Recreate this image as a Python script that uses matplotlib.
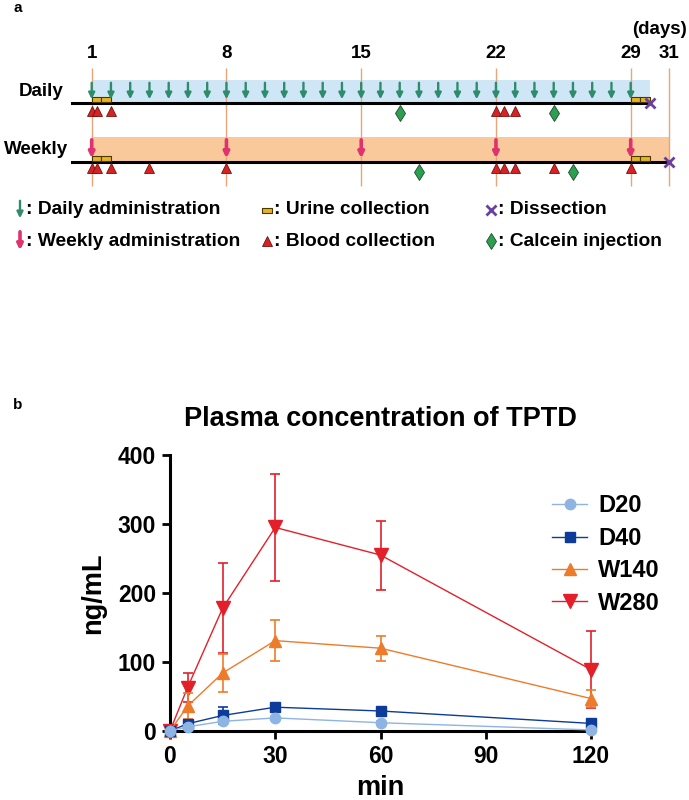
import matplotlib.pyplot as plt

plt.rcParams['font.family'] = ['Liberation Sans', 'DejaVu Sans']
plt.rcParams['font.weight'] = 'bold'

# ---- panel a: schedule (days) ----
tick_days = [1, 8, 15, 22, 29, 31]
daily_admin = list(range(1, 30))
weekly_admin = [1, 8, 15, 22, 29]
daily_blood = [1, 1.3, 2, 22, 22.4, 23]
weekly_blood = [1, 1.3, 2, 4, 8, 22, 22.4, 23, 25, 29]
daily_calcein = [17, 25]
weekly_calcein = [18, 26]
urine_days = [1, 1.5, 29, 29.5]
daily_end = 30
weekly_end = 31

# ---- panel b: plasma concentration ----
times = [0, 5, 15, 30, 60, 120]
d20 = [0, 6, 14, 19, 12, 1.5]
d20_sd = [0, 2, 3, 3, 2, 0.5]
d40 = [0, 10.5, 22.5, 34.5, 29, 11]
d40_sd = [0, 3, 13, 4, 3, 2]
w140 = [0, 36, 84, 131, 120, 47]
w140_sd = [0, 19, 27, 30, 18, 12]
w280 = [0, 63, 178, 295, 255, 89]
w280_sd = [0, 21, 65, 78, 50, 56]

W, H = 689, 800
fx = lambda x: x / W
fy = lambda y: 1 - y / H

fig = plt.figure(figsize=(6.89, 8), dpi=100)

GREEN = '#2e8b6b'
PINK = '#e0336e'
RED = '#d62222'
DIAM = '#2ca050'
PURPLE = '#6b3fa0'
GOLD = '#e6b422'
VLINE = '#e9a57a'

# timeline axes: x in days, y in pixel rows
ax = fig.add_axes([0, fy(190), 1, 190 / H])
ax.set_xlim(1 - 91.7 / 19.25, 1 + (W - 91.7) / 19.25)
ax.set_ylim(190, 0)
ax.axis('off')

ax.vlines(tick_days, 68, 186, color=VLINE, lw=1, zorder=1)
for d in tick_days:
    ax.text(d, 53, str(d), ha='center', va='center', fontsize=13.5, fontweight='bold')

# bands
ax.fill_between([1, daily_end], 80, 103, color='#cfe6f7', lw=0, zorder=0)
ax.fill_between([1, weekly_end], 137, 162, color='#f9c99c', lw=0, zorder=0)
ax.plot([0, daily_end], [103, 103], color='black', lw=2.2, zorder=3)
ax.plot([0, weekly_end], [162, 162], color='black', lw=2.2, zorder=3)

for d in daily_admin:
    ax.annotate('', xy=(d, 102), xytext=(d, 80),
                arrowprops=dict(arrowstyle='-|>', color=GREEN, lw=1.7, mutation_scale=9), zorder=4)
for d in weekly_admin:
    ax.annotate('', xy=(d, 161), xytext=(d, 137),
                arrowprops=dict(arrowstyle='-|>', color=PINK, lw=2.6, mutation_scale=8), zorder=4)

for y0 in (103, 162):
    ax.broken_barh([(d, 0.5) for d in urine_days], (y0 - 6, 5),
                   facecolor=GOLD, edgecolor='#4a3800', lw=0.8, zorder=3)

ax.plot(daily_blood, [111] * len(daily_blood), '^', color=RED, mec='#7a1010',
        mew=0.6, ms=7.5, zorder=5)
ax.plot(weekly_blood, [168] * len(weekly_blood), '^', color=RED, mec='#7a1010',
        mew=0.6, ms=7.5, zorder=5)
ax.plot(daily_calcein, [113] * len(daily_calcein), 'd', color=DIAM, mec='#1a4a2a',
        mew=0.6, ms=7.8, zorder=5)
ax.plot(weekly_calcein, [172] * len(weekly_calcein), 'd', color=DIAM, mec='#1a4a2a',
        mew=0.6, ms=7.8, zorder=5)
ax.plot([daily_end], [103], 'x', color=PURPLE, ms=7, mew=2, zorder=6)
ax.plot([weekly_end], [162], 'x', color=PURPLE, ms=7, mew=2, zorder=6)

fig.text(fx(64), fy(92), 'Daily', ha='right', va='center', fontsize=13.5, fontweight='bold')
fig.text(fx(68), fy(149), 'Weekly', ha='right', va='center', fontsize=13.5, fontweight='bold')
fig.text(fx(687), fy(30), '(days)', ha='right', va='center', fontsize=13.5, fontweight='bold')
fig.text(fx(13), fy(8), 'a', ha='left', va='center', fontsize=11, fontweight='bold')
fig.text(fx(13), fy(405), 'b', ha='left', va='center', fontsize=11, fontweight='bold')

# legend of panel a (pixel layout)
lg = fig.add_axes([0, fy(260), 1, 70 / H])
lg.set_xlim(0, W)
lg.set_ylim(260, 190)
lg.axis('off')
lg.annotate('', xy=(20, 221), xytext=(20, 198),
            arrowprops=dict(arrowstyle='-|>', color=GREEN, lw=1.7, mutation_scale=9))
lg.annotate('', xy=(20, 253), xytext=(20, 229),
            arrowprops=dict(arrowstyle='-|>', color=PINK, lw=2.6, mutation_scale=8))
lg.broken_barh([(262, 10)], (208, 5), facecolor=GOLD, edgecolor='#4a3800', lw=0.8)
lg.plot([267], [241], '^', color=RED, mec='#7a1010', mew=0.6, ms=7.5)
lg.plot([491], [210], 'x', color=PURPLE, ms=7, mew=2)
lg.plot([491], [241], 'd', color=DIAM, mec='#1a4a2a', mew=0.6, ms=7.8)
for x, y, s in [(26, 210, ': Daily administration'), (26, 241, ': Weekly administration'),
                (274, 210, ': Urine collection'), (274, 241, ': Blood collection'),
                (498, 210, ': Dissection'), (498, 241, ': Calcein injection')]:
    lg.text(x, y, s, ha='left', va='center', fontsize=13.8, fontweight='bold')

# ---- panel b ----
bx = fig.add_axes([fx(170), fy(731), (591 - 170) / W, (731 - 455) / H])
series = [
    ('D20', d20, d20_sd, '#8db4e2', 'o', 7.5, 4),
    ('D40', d40, d40_sd, '#0d3b99', 's', 7, 3),
    ('W140', w140, w140_sd, '#ee7b2a', '^', 9, 2),
    ('W280', w280, w280_sd, '#e3202a', 'v', 9.5, 1),
]
handles, labels = [], []
for name, vals, sd, col, mk, ms, z in series:
    c = bx.errorbar(times, vals, yerr=sd, color=col, marker=mk, ms=ms, lw=1,
                    elinewidth=1.2, capsize=3.5, capthick=1.2,
                    zorder=z + 2, clip_on=False)
    for art in c.lines[1] + c.lines[2]:
        art.set_clip_on(False)
    c[0].set_clip_on(False)
    handles.append(c[0])
    labels.append(name)

bx.set_xlim(0, 120)
bx.set_ylim(0, 400)
bx.set_xticks([0, 30, 60, 90, 120])
bx.set_yticks([0, 100, 200, 300, 400])
for s in ['top', 'right']:
    bx.spines[s].set_visible(False)
for s in ['left', 'bottom']:
    bx.spines[s].set_linewidth(2.2)
bx.tick_params(width=2, length=6, labelsize=16.5, pad=4)
for t in bx.get_xticklabels() + bx.get_yticklabels():
    t.set_fontweight('bold')
bx.set_xlabel('min', fontsize=19.5, fontweight='bold', labelpad=5)
bx.set_ylabel('ng/mL', fontsize=19.5, fontweight='bold', labelpad=8)
bx.set_title('Plasma concentration of TPTD', fontsize=19.5, fontweight='bold', pad=21)

bx.legend(handles, labels, loc='center left', bbox_to_anchor=(fx(552), fy(554.5)),
          bbox_transform=fig.transFigure, frameon=False, borderpad=0, borderaxespad=0,
          handlelength=1.5, handletextpad=0.45, labelspacing=0.4,
          prop={'weight': 'bold', 'size': 17})

fig.savefig('out.png', dpi=100)
